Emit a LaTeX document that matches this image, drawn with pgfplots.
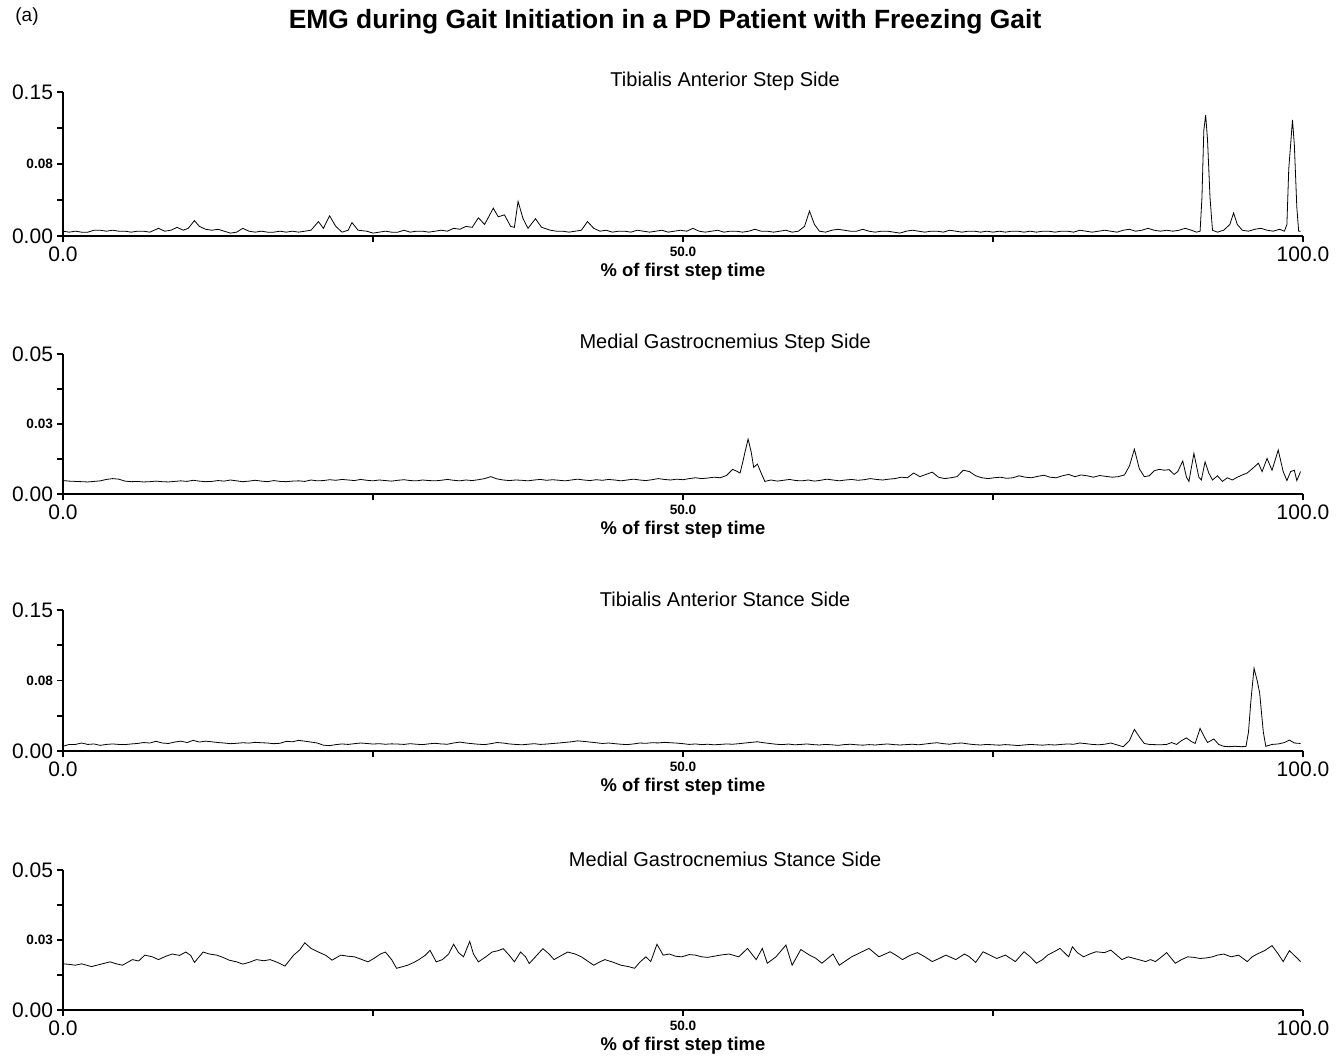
\documentclass[border=0pt]{standalone}
\usepackage{pgfplots}
\pgfplotsset{compat=1.18}
\usepackage{fontspec}
\setmainfont{Liberation Sans}
\pgfplotsset{
 emg/.style={
  scale only axis, width=620pt,
  xmin=0, xmax=100, ymin=0,
  axis x line=bottom, axis y line=left,
  axis line style={-, line width=0.9pt, black},
  tick align=outside, major tick length=3pt,
  tick style={line width=0.8pt, black},
  xtick={0,25,50,75,100},
  xticklabels={0.0,,{\fontsize{6.8}{7}\selectfont\bfseries 50.0},,100.0},
  ticklabel style={font=\fontsize{10.5}{12}\selectfont},
  yticklabel style={xshift=1.5pt},
  xticklabel style={yshift=1pt},
  scaled y ticks=false,
  xlabel={\% of first step time},
  xlabel style={font=\fontsize{9.2}{11}\selectfont\bfseries, at={(axis description cs:0.5,0)}, anchor=center, yshift=-18pt},
  title style={font=\fontsize{10}{12}\selectfont, at={(axis description cs:0.534,1)}, anchor=center, yshift=-0.5pt},
  cycle list={{black, no marks, line width=1pt, line join=round}},
 },
 big/.style={ymax=0.15, ytick={0,0.0375,0.075,0.1125,0.15},
  yticklabels={0.00,,{\fontsize{6.8}{7}\selectfont\bfseries 0.08},,0.15}},
 small/.style={ymax=0.05, ytick={0,0.0125,0.025,0.0375,0.05},
  yticklabels={0.00,,{\fontsize{6.8}{7}\selectfont\bfseries 0.03},,0.05}},
}
\begin{document}
\begin{tikzpicture}
\path (0,0) rectangle (668pt,527.5pt);
\node[font=\fontsize{9.5}{11}\selectfont] at (13.5pt,519pt) {(a)};
\node[font=\fontsize{13.2}{15}\selectfont\bfseries] at (332.5pt,516.5pt) {EMG during Gait Initiation in a PD Patient with Freezing Gait};

% Panel 1
\begin{axis}[emg, big, height=72pt, at={(31.5pt,409.5pt)}, anchor=south west, title={Tibialis Anterior Step Side}]
\addplot coordinates {(0,0.005) (0.5,0.004) (1,0.005) (1.5,0.004) (2,0.004) (2.5,0.006) (3,0.006) (3.5,0.005) (4,0.006) (4.5,0.005) (5,0.005) (5.5,0.004) (6,0.005) (6.5,0.005) (7,0.004) (7.7,0.008) (8.2,0.005) (8.7,0.006) (9.2,0.009) (9.7,0.006) (10.1,0.008) (10.6,0.016) (11,0.010) (11.5,0.007) (12,0.006) (12.5,0.007) (13,0.005) (13.5,0.003) (14,0.004) (14.5,0.008) (15,0.005) (15.5,0.004) (16,0.005) (16.5,0.004) (17,0.004) (17.5,0.005) (18,0.004) (18.5,0.005) (19,0.004) (19.5,0.005) (20,0.006) (20.6,0.015) (21,0.008) (21.5,0.021) (22,0.010) (22.5,0.004) (23,0.006) (23.3,0.014) (23.8,0.006) (24.5,0.005) (25,0.003) (25.5,0.004) (26,0.005) (26.5,0.004) (27,0.004) (27.5,0.006) (28,0.004) (28.5,0.005) (29,0.005) (29.5,0.004) (30,0.005) (30.5,0.006) (31,0.005) (31.5,0.008) (32,0.007) (32.5,0.010) (33,0.009) (33.5,0.019) (34,0.012) (34.7,0.029) (35.1,0.020) (35.6,0.022) (36.1,0.010) (36.4,0.009) (36.7,0.036) (37.1,0.018) (37.5,0.008) (38.1,0.018) (38.6,0.009) (39.3,0.006) (39.8,0.005) (40.3,0.005) (40.8,0.004) (41.3,0.005) (41.8,0.006) (42.3,0.015) (42.8,0.008) (43.3,0.005) (43.8,0.006) (44.3,0.004) (44.8,0.005) (45.3,0.005) (45.8,0.004) (46.3,0.006) (46.8,0.005) (47.3,0.004) (47.8,0.005) (48.3,0.006) (48.8,0.004) (49.3,0.005) (49.8,0.006) (50.3,0.005) (50.8,0.008) (51.3,0.005) (51.8,0.004) (52.3,0.005) (52.8,0.006) (53.3,0.004) (53.8,0.005) (54.3,0.005) (54.8,0.004) (55.3,0.005) (55.8,0.007) (56.3,0.005) (56.8,0.005) (57.3,0.004) (57.8,0.005) (58.3,0.006) (58.8,0.004) (59.3,0.005) (59.8,0.010) (60.2,0.026) (60.6,0.012) (61,0.005) (61.5,0.004) (62,0.006) (62.5,0.007) (63,0.006) (63.5,0.005) (64,0.005) (64.5,0.007) (65,0.005) (65.5,0.004) (66,0.005) (66.5,0.005) (67,0.004) (67.5,0.003) (68,0.005) (68.5,0.006) (69,0.005) (69.5,0.004) (70,0.005) (70.5,0.005) (71,0.004) (71.5,0.006) (72,0.005) (72.5,0.004) (73,0.005) (73.5,0.005) (74,0.004) (74.5,0.005) (75,0.004) (75.5,0.005) (76,0.004) (76.5,0.005) (77,0.005) (77.5,0.004) (78,0.005) (78.5,0.004) (79,0.005) (79.5,0.005) (80,0.004) (80.5,0.005) (81,0.005) (81.5,0.004) (82,0.006) (82.5,0.005) (83,0.004) (83.5,0.005) (84,0.006) (84.5,0.005) (85,0.004) (85.5,0.006) (86,0.007) (86.5,0.005) (87,0.006) (87.5,0.008) (88,0.006) (88.5,0.005) (89,0.006) (89.5,0.005) (90,0.006) (90.5,0.008) (91,0.006) (91.4,0.004) (91.7,0.005) (91.85,0.040) (92.0,0.110) (92.15,0.126) (92.3,0.100) (92.5,0.040) (92.7,0.006) (93.1,0.004) (93.6,0.006) (94.1,0.012) (94.4,0.024) (94.7,0.012) (95.1,0.006) (95.6,0.005) (96.1,0.007) (96.6,0.008) (97.1,0.006) (97.6,0.005) (98.1,0.007) (98.5,0.005) (98.7,0.012) (98.85,0.070) (99.0,0.095) (99.15,0.121) (99.3,0.095) (99.5,0.030) (99.65,0.005) (99.8,0.005)};
\end{axis}

% Panel 2
\begin{axis}[emg, small, height=70pt, at={(31.5pt,280.5pt)}, anchor=south west, title={Medial Gastrocnemius Step Side}]
\addplot coordinates {(0,0.0048) (0.5,0.0046) (1,0.0045) (1.5,0.0044) (2,0.0043) (2.5,0.0045) (3,0.0047) (3.5,0.0052) (4,0.0055) (4.5,0.0053) (5,0.0046) (5.5,0.0044) (6,0.0045) (6.5,0.0043) (7,0.0044) (7.5,0.0046) (8,0.0044) (8.5,0.0043) (9,0.0045) (9.5,0.0047) (10,0.0045) (10.5,0.0049) (11,0.0046) (11.5,0.0044) (12,0.0045) (12.5,0.0048) (13,0.0046) (13.5,0.0050) (14,0.0047) (14.5,0.0044) (15,0.0046) (15.5,0.0049) (16,0.0046) (16.5,0.0044) (17,0.0048) (17.5,0.0045) (18,0.0044) (18.5,0.0046) (19,0.0047) (19.5,0.0045) (20,0.0050) (20.5,0.0047) (21,0.0048) (21.5,0.0051) (22,0.0049) (22.5,0.0052) (23,0.0050) (23.5,0.0048) (24,0.0052) (24.5,0.0049) (25,0.0047) (25.5,0.0050) (26,0.0048) (26.5,0.0046) (27,0.0049) (27.5,0.0051) (28,0.0048) (28.5,0.0047) (29,0.0050) (29.5,0.0048) (30,0.0047) (30.5,0.0049) (31,0.0052) (31.5,0.0049) (32,0.0047) (32.5,0.0050) (33,0.0048) (33.5,0.0051) (34,0.0055) (34.5,0.0062) (35,0.0054) (35.5,0.0050) (36,0.0048) (36.5,0.0050) (37,0.0049) (37.5,0.0047) (38,0.0050) (38.5,0.0052) (39,0.0049) (39.5,0.0051) (40,0.0049) (40.5,0.0047) (41,0.0050) (41.5,0.0053) (42,0.0050) (42.5,0.0048) (43,0.0051) (43.5,0.0049) (44,0.0052) (44.5,0.0050) (45,0.0047) (45.5,0.0050) (46,0.0053) (46.5,0.0050) (47,0.0048) (47.5,0.0051) (48,0.0055) (48.5,0.0052) (49,0.0050) (49.5,0.0053) (50,0.0051) (50.5,0.0055) (51,0.0058) (51.5,0.0055) (52,0.0057) (52.5,0.0060) (53,0.0058) (53.5,0.0066) (54,0.0088) (54.3,0.0082) (54.6,0.0075) (54.8,0.0110) (55.0,0.0150) (55.25,0.0196) (55.5,0.0150) (55.7,0.0095) (56.0,0.0107) (56.3,0.0075) (56.6,0.0045) (57.1,0.0050) (57.6,0.0046) (58.1,0.0049) (58.6,0.0052) (59.1,0.0048) (59.6,0.0047) (60.1,0.0050) (60.6,0.0046) (61.1,0.0049) (61.6,0.0053) (62.1,0.0050) (62.6,0.0047) (63.1,0.0050) (63.6,0.0052) (64.1,0.0049) (64.6,0.0051) (65.1,0.0055) (65.6,0.0052) (66.1,0.0050) (66.6,0.0053) (67.1,0.0055) (67.6,0.0060) (68.1,0.0058) (68.6,0.0075) (69.1,0.0062) (69.6,0.0070) (70.1,0.0078) (70.6,0.0060) (71.1,0.0055) (71.6,0.0058) (72.1,0.0062) (72.6,0.0085) (73.1,0.0080) (73.6,0.0065) (74.1,0.0058) (74.6,0.0055) (75.1,0.0058) (75.6,0.0060) (76.1,0.0056) (76.6,0.0058) (77.1,0.0065) (77.6,0.0060) (78.1,0.0058) (78.6,0.0063) (79.1,0.0067) (79.6,0.0060) (80.1,0.0058) (80.6,0.0065) (81.1,0.0070) (81.6,0.0062) (82.1,0.0068) (82.6,0.0065) (83.1,0.0060) (83.6,0.0066) (84.1,0.0063) (84.6,0.0060) (85.1,0.0062) (85.6,0.0068) (86.0,0.0100) (86.4,0.0160) (86.8,0.0090) (87.2,0.0062) (87.6,0.0065) (88.0,0.0083) (88.4,0.0088) (88.8,0.0085) (89.2,0.0087) (89.6,0.0070) (89.9,0.0080) (90.3,0.0118) (90.6,0.0060) (90.8,0.0045) (91.2,0.0145) (91.6,0.0060) (91.8,0.0050) (92.1,0.0115) (92.4,0.0075) (92.7,0.0050) (93.1,0.0065) (93.5,0.0045) (93.9,0.0058) (94.3,0.0050) (94.7,0.0060) (95.1,0.0068) (95.5,0.0075) (95.9,0.0090) (96.4,0.0110) (96.7,0.0080) (97.1,0.0127) (97.5,0.0085) (98.0,0.0157) (98.4,0.0080) (98.7,0.0048) (99.0,0.0080) (99.3,0.0085) (99.5,0.0048) (99.8,0.0080)};
\end{axis}

% Panel 3
\begin{axis}[emg, big, height=70.5pt, at={(31.5pt,152pt)}, anchor=south west, title={Tibialis Anterior Stance Side}]
\addplot coordinates {(0,0.005) (0.5,0.007) (1,0.007) (1.5,0.0085) (2,0.007) (2.5,0.0075) (3,0.006) (3.5,0.007) (4,0.0075) (4.5,0.007) (5,0.0068) (5.5,0.0075) (6,0.008) (6.5,0.009) (7,0.0085) (7.5,0.0103) (8,0.0085) (8.5,0.008) (9,0.0095) (9.5,0.0105) (10,0.009) (10.5,0.0113) (11,0.0095) (11.5,0.0105) (12,0.0098) (12.5,0.009) (13,0.0085) (13.5,0.0078) (14,0.0082) (14.5,0.0088) (15,0.0084) (15.5,0.0092) (16,0.0088) (16.5,0.0085) (17,0.0078) (17.5,0.0082) (18,0.0103) (18.5,0.0098) (19,0.0113) (19.5,0.0105) (20,0.0095) (20.5,0.0085) (21,0.0062) (21.5,0.0057) (22,0.0068) (22.5,0.0075) (23,0.007) (23.5,0.0078) (24,0.0085) (24.5,0.008) (25,0.0074) (25.5,0.0078) (26,0.0072) (26.5,0.0076) (27,0.0074) (27.5,0.007) (28,0.0078) (28.5,0.0072) (29,0.0068) (29.5,0.0076) (30,0.0082) (30.5,0.0075) (31,0.0072) (31.5,0.0085) (32,0.0095) (32.5,0.0085) (33,0.0078) (33.5,0.0072) (34,0.0068) (34.5,0.0078) (35,0.009) (35.5,0.0085) (36,0.0075) (36.5,0.007) (37,0.0066) (37.5,0.0072) (38,0.0078) (38.5,0.007) (39,0.0074) (39.5,0.008) (40,0.0085) (40.5,0.0092) (41,0.0098) (41.5,0.0108) (42,0.0102) (42.5,0.0095) (43,0.0088) (43.5,0.008) (44,0.0085) (44.5,0.0078) (45,0.0072) (45.5,0.0068) (46,0.0075) (46.5,0.0085) (47,0.0082) (47.5,0.0088) (48,0.0086) (48.5,0.0092) (49,0.0088) (49.5,0.0084) (50,0.0078) (50.5,0.007) (51,0.0075) (51.5,0.0068) (52,0.0072) (52.5,0.0066) (53,0.007) (53.5,0.0075) (54,0.0072) (54.5,0.0078) (55,0.0085) (55.5,0.0092) (56,0.0098) (56.5,0.0088) (57,0.008) (57.5,0.0072) (58,0.0068) (58.5,0.0074) (59,0.0066) (59.5,0.007) (60,0.0075) (60.5,0.0068) (61,0.0064) (61.5,0.007) (62,0.0066) (62.5,0.006) (63,0.0068) (63.5,0.0072) (64,0.0066) (64.5,0.0062) (65,0.0068) (65.5,0.0064) (66,0.007) (66.5,0.0075) (67,0.0068) (67.5,0.0064) (68,0.0068) (68.5,0.0072) (69,0.0066) (69.5,0.0074) (70,0.0082) (70.5,0.0088) (71,0.0078) (71.5,0.0072) (72,0.0082) (72.5,0.0085) (73,0.0075) (73.5,0.0068) (74,0.0064) (74.5,0.007) (75,0.0066) (75.5,0.0062) (76,0.0068) (76.5,0.0064) (77,0.0058) (77.5,0.0064) (78,0.007) (78.5,0.0066) (79,0.0062) (79.5,0.0068) (80,0.0064) (80.5,0.007) (81,0.0075) (81.5,0.0072) (82,0.0085) (82.5,0.0078) (83,0.007) (83.5,0.0066) (84,0.0072) (84.5,0.0085) (85,0.0065) (85.5,0.0045) (86,0.0110) (86.4,0.0230) (86.8,0.0150) (87.2,0.0080) (87.6,0.0070) (88,0.0068) (88.5,0.0066) (89,0.0070) (89.4,0.0090) (89.8,0.0070) (90.2,0.0110) (90.6,0.0140) (91,0.0100) (91.3,0.0080) (91.7,0.0240) (92.0,0.0160) (92.3,0.0090) (92.8,0.0128) (93.2,0.0070) (93.6,0.0050) (94,0.0046) (94.5,0.0050) (95,0.0046) (95.4,0.0048) (95.6,0.0200) (95.8,0.0540) (96.05,0.0880) (96.3,0.0750) (96.5,0.0620) (96.8,0.0200) (97.0,0.0050) (97.5,0.0070) (98,0.0075) (98.5,0.009) (98.9,0.0117) (99.3,0.0085) (99.8,0.0080)};
\end{axis}

% Panel 4
\begin{axis}[emg, small, height=70pt, at={(31.5pt,22.5pt)}, anchor=south west, title={Medial Gastrocnemius Stance Side}]
\addplot coordinates {(0,0.0165) (0.5,0.0163) (1,0.0160) (1.5,0.0165) (2.3,0.0155) (3,0.0163) (3.8,0.0172) (4.3,0.0165) (4.8,0.0160) (5.6,0.0180) (6.1,0.0175) (6.6,0.0196) (7.2,0.0190) (7.7,0.0180) (8.3,0.0192) (8.8,0.0200) (9.4,0.0195) (9.9,0.0207) (10.3,0.0195) (10.6,0.0170) (11.3,0.0207) (11.8,0.0200) (12.4,0.0196) (12.9,0.0188) (13.4,0.0178) (14,0.0172) (14.5,0.0164) (15,0.0170) (15.6,0.0180) (16.2,0.0176) (16.7,0.0180) (17.3,0.0170) (17.9,0.0157) (18.6,0.0196) (19.1,0.0215) (19.5,0.0240) (20,0.0220) (20.6,0.0207) (21.2,0.0195) (21.7,0.0178) (22.4,0.0196) (23,0.0192) (23.5,0.0190) (24,0.0182) (24.6,0.0172) (25.1,0.0185) (25.6,0.0200) (26,0.0207) (26.5,0.0180) (26.9,0.0149) (27.4,0.0155) (27.8,0.0160) (28.3,0.0170) (28.7,0.0180) (29.2,0.0195) (29.6,0.0213) (30.1,0.0172) (30.6,0.0180) (31.1,0.0200) (31.5,0.0235) (31.9,0.0205) (32.3,0.0190) (32.8,0.0245) (33.1,0.0200) (33.5,0.0172) (34.1,0.0190) (34.6,0.0207) (35.1,0.0212) (35.5,0.0219) (36,0.0195) (36.4,0.0172) (36.9,0.0207) (37.3,0.0190) (37.6,0.0166) (38.2,0.0195) (38.7,0.0219) (39.2,0.0200) (39.6,0.0180) (40.2,0.0195) (40.7,0.0207) (41.3,0.0200) (41.8,0.0190) (42.3,0.0175) (42.8,0.0160) (43.3,0.0172) (43.7,0.0180) (44.4,0.0170) (45,0.0160) (45.6,0.0155) (46.1,0.0149) (46.5,0.0170) (47,0.0190) (47.4,0.0173) (47.9,0.0235) (48.4,0.0196) (48.9,0.0200) (49.4,0.0192) (49.9,0.0190) (50.5,0.0198) (51,0.0196) (51.5,0.0190) (52,0.0188) (52.5,0.0192) (53,0.0196) (53.7,0.0200) (54.1,0.0195) (54.5,0.0190) (55.2,0.0220) (55.9,0.0180) (56.4,0.0220) (56.8,0.0167) (57.5,0.0190) (58.3,0.0232) (58.8,0.0160) (59.5,0.0216) (60.2,0.0196) (60.7,0.0185) (61.2,0.0167) (62.1,0.0200) (62.6,0.0160) (63.1,0.0175) (63.6,0.0190) (64.3,0.0205) (65,0.0220) (65.4,0.0205) (65.8,0.0190) (66.7,0.0208) (67.2,0.0195) (67.7,0.0180) (68.3,0.0195) (68.9,0.0205) (69.5,0.0190) (70.1,0.0173) (70.7,0.0185) (71.2,0.0196) (72,0.0180) (72.7,0.0200) (73.1,0.0190) (73.6,0.0170) (74.2,0.0208) (74.8,0.0195) (75.3,0.0184) (76,0.0196) (76.8,0.0173) (77.5,0.0208) (78,0.0190) (78.5,0.0167) (79,0.0180) (79.4,0.0196) (80,0.0210) (80.4,0.0220) (81.1,0.0190) (81.4,0.0226) (81.8,0.0205) (82.3,0.0190) (82.8,0.0200) (83.3,0.0208) (84,0.0205) (84.5,0.0214) (85,0.0195) (85.4,0.0180) (85.9,0.0190) (86.4,0.0184) (86.9,0.0178) (87.3,0.0173) (87.7,0.0180) (88.1,0.0173) (88.6,0.0190) (89,0.0205) (89.7,0.0167) (90.2,0.0180) (90.7,0.0190) (91.2,0.0188) (91.7,0.0184) (92.2,0.0186) (92.7,0.0190) (93.1,0.0196) (93.6,0.0200) (94.2,0.0190) (94.8,0.0196) (95.5,0.0173) (95.9,0.0190) (96.3,0.0200) (96.9,0.0212) (97.5,0.0230) (98,0.0200) (98.4,0.0173) (98.9,0.0212) (99.3,0.0195) (99.8,0.0173)};
\end{axis}
\end{tikzpicture}
\end{document}
